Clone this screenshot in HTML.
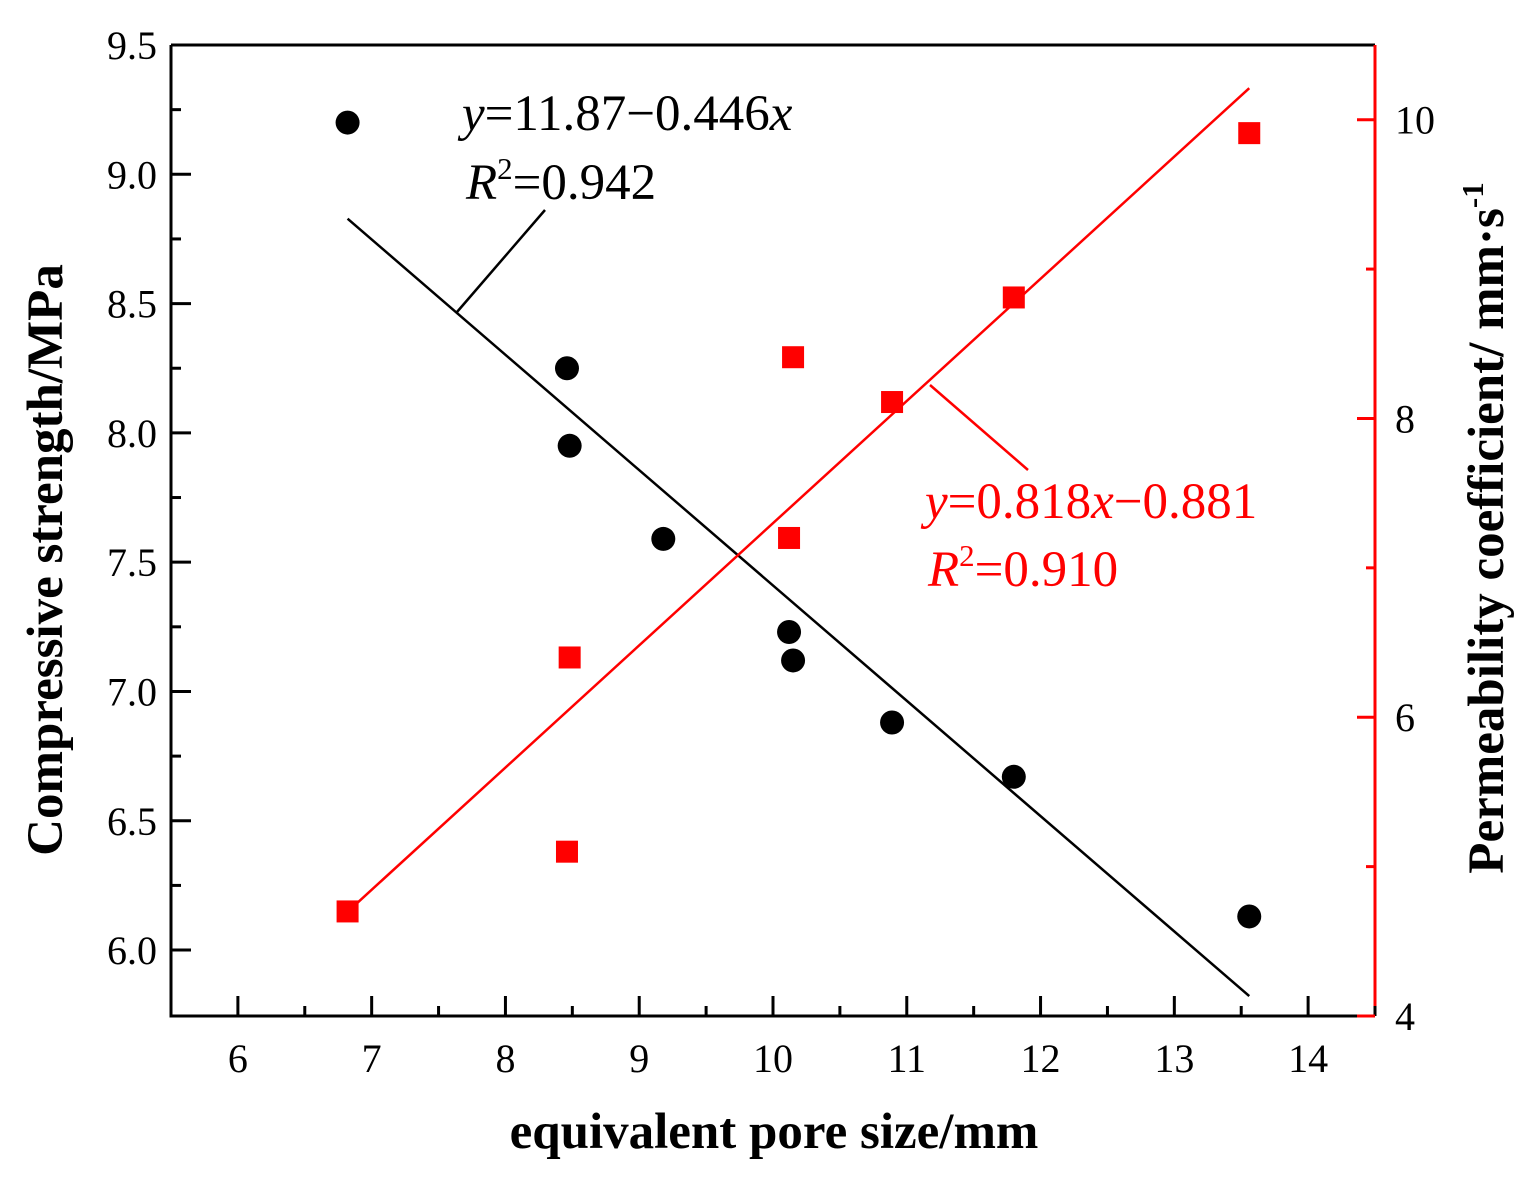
<!DOCTYPE html>
<html><head><meta charset="utf-8"><style>
body{margin:0;background:#fff}
svg{display:block;font-family:"Liberation Serif",serif}
</style></head><body>
<svg width="1531" height="1186" id="c"></svg>
<script>
const xCats=[6.82,8.46,8.48,9.18,10.12,10.15,10.89,11.8,13.56];
const strength=[9.2,8.25,7.95,7.59,7.23,7.12,6.88,6.67,6.13];
const permX=[6.82,8.46,8.48,10.12,10.15,10.89,11.8,13.56];
const perm=[4.70,5.10,6.40,7.20,8.41,8.11,8.81,9.91];
const xTicks=[6,7,8,9,10,11,12,13,14];
const yTicks=[6.0,6.5,7.0,7.5,8.0,8.5,9.0,9.5];
const y2Ticks=[4,6,8,10];
const fitS=[11.87,-0.446], fitP=[-0.881,0.818];
const L=171,R=1375,T=45,B=1016;
const X=v=>L+(v-5.5)/9*(R-L);
const Y=v=>B-(v-5.745)/(9.5-5.745)*(B-T);
const Y2=v=>B-(v-4)/6.5*(B-T);
const ns="http://www.w3.org/2000/svg",svg=document.getElementById('c');
function el(t,a,txt){const e=document.createElementNS(ns,t);for(const k in a)e.setAttribute(k,a[k]);if(txt!==undefined)e.textContent=txt;svg.appendChild(e);return e;}
let e;
e=el('path',{d:`M${L},${T}H${R}M${L},${T}V${B}H${R}`,stroke:'#000','stroke-width':3,fill:'none'});

e=el('line',{x1:R,y1:T,x2:R,y2:B,stroke:'#f00','stroke-width':3});

for(let v=5.5;v<=14.51;v+=0.5){const maj=Math.abs(v-Math.round(v))<0.01;
 e=el('line',{x1:X(v),x2:X(v),y1:B,y2:B-(maj?20:10),stroke:'#000','stroke-width':3});
 }
xTicks.forEach(v=>{e=el('text',{x:X(v),y:B+56,'text-anchor':'middle','font-size':40},v);
 });
for(let v=6.0;v<=9.5;v+=0.25){const maj=Math.abs(v*2-Math.round(v*2))<0.01;
 e=el('line',{x1:L,x2:L+(maj?20:10),y1:Y(v),y2:Y(v),stroke:'#000','stroke-width':3});
 }
yTicks.forEach(v=>{e=el('text',{x:L-14,y:Y(v)+14,'text-anchor':'end','font-size':40},v.toFixed(1));
 });
for(let v=4;v<=10;v+=1){const maj=v%2==0;
 e=el('line',{x1:R,x2:R-(maj?18:9),y1:Y2(v),y2:Y2(v),stroke:'#f00','stroke-width':3});
 }
y2Ticks.forEach(v=>{e=el('text',{x:R+20,y:Y2(v)+14,'font-size':40},v);
 });
const x0=xCats[0],x1=xCats[xCats.length-1];
e=el('line',{x1:X(x0),y1:Y(fitS[0]+fitS[1]*x0),x2:X(x1),y2:Y(fitS[0]+fitS[1]*x1),stroke:'#000','stroke-width':2.5});

e=el('line',{x1:X(x0),y1:Y2(fitP[0]+fitP[1]*x0),x2:X(x1),y2:Y2(fitP[0]+fitP[1]*x1),stroke:'#f00','stroke-width':2.5});

xCats.forEach((x,i)=>{e=el('circle',{cx:X(x),cy:Y(strength[i]),r:12,fill:'#000'});
 });
permX.forEach((x,i)=>{e=el('rect',{x:X(x)-11,y:Y2(perm[i])-11,width:22,height:22,fill:'#f00'});
 });
e=el('line',{x1:457,y1:312,x2:545,y2:210,stroke:'#000','stroke-width':2.5});

e=el('line',{x1:930,y1:385,x2:1028,y2:470,stroke:'#f00','stroke-width':2.5});

</script>
<svg style="position:absolute;left:0;top:0" width="1531" height="1186">
<g font-family="Liberation Serif,serif">
<text x="462" y="130" font-size="51"><tspan font-style="italic">y</tspan>=11.87−0.446<tspan font-style="italic">x</tspan></text>
<text x="466" y="199" font-size="51"><tspan font-style="italic">R</tspan><tspan font-size="31" dy="-20">2</tspan><tspan dy="20">=0.942</tspan></text>
<text x="925" y="518" font-size="51" fill="#f00"><tspan font-style="italic">y</tspan>=0.818<tspan font-style="italic">x</tspan>−0.881</text>
<text x="928" y="586" font-size="51" fill="#f00"><tspan font-style="italic">R</tspan><tspan font-size="31" dy="-20">2</tspan><tspan dy="20">=0.910</tspan></text>
<text x="774" y="1148" font-size="51" font-weight="bold" text-anchor="middle">equivalent pore size/mm</text>
<text transform="translate(62,560) rotate(-90)" font-size="51" font-weight="bold" text-anchor="middle">Compressive strength/MPa</text>
<text transform="translate(1503,528) rotate(-90)" font-size="51" font-weight="bold" text-anchor="middle">Permeability coefficient/ mm·s<tspan font-size="31" dy="-20">-1</tspan></text>
</g></svg>
</body></html>
